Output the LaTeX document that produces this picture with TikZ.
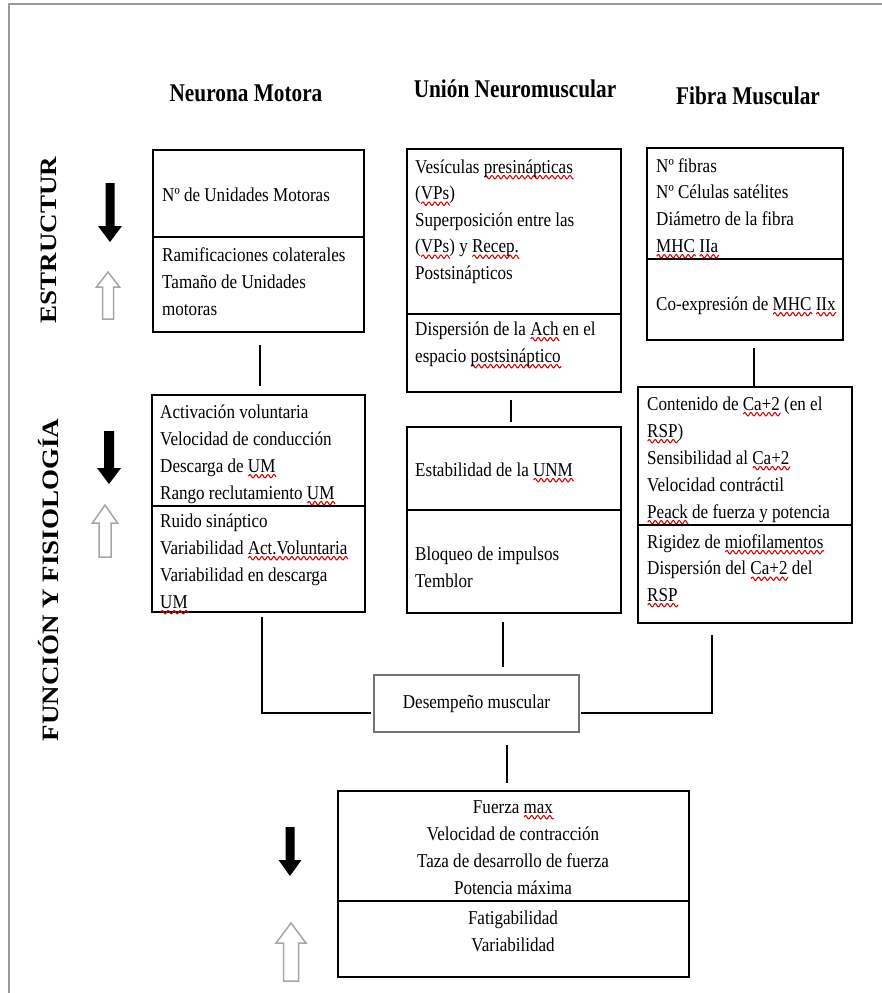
\documentclass[tikz,border=0pt]{standalone}
\usepackage{fontspec}
\usepackage{graphicx}
\setmainfont{Liberation Serif}[FakeStretch=0.87]
\newfontfamily\headfont{Liberation Serif}[FakeStretch=0.835]
\newfontfamily\sidefont{Liberation Serif}
% red wavy underline (spell-check style)
\newsavebox\sqbox
\newcommand\sq[1]{\sbox\sqbox{#1}%
  \pgfmathsetmacro\sqw{\wd\sqbox}\pgfmathtruncatemacro\sqn{1.6*\sqw+3}%
  \rlap{\raisebox{-4.2pt}[0pt][0pt]{\tikz[x=1pt,y=1pt,baseline=0pt]{\draw[red!85!black,line width=1.05pt]
     plot[domain=0:\sqw,samples=\sqn] (\x,{1.7*sin(\x*60)});}}}\usebox\sqbox}

% box from (x1,y1) to (x2,y2), in pixel-like units
\newcommand\mkbox[5]{\node[box, anchor=north west, minimum width={#4pt-#2pt}, minimum height={#5pt-#3pt}] (#1) at (#2,#3) {};}
% stacked text lines: name, style, x, first baseline, line step, list
\newcommand\tlines[6]{\foreach \t [count=\i] in {#6} {\node[#2] (#1-\i) at (#3,{#4+(\i-1)*#5}) {\t};}}
% filled downward arrow: cx, top, head base, tip, shaft half width, head half width
\newcommand\downarr[6]{\fill[downarrow] (#1-#5,#2) -- (#1+#5,#2) -- (#1+#5,#3) -- (#1+#6,#3) -- (#1,#4) -- (#1-#6,#3) -- (#1-#5,#3) -- cycle;}
% outlined upward arrow: cx, tip, head base, bottom, shaft half width, head half width
\newcommand\uparr[6]{\draw[uparrow] (#1,#2) -- (#1+#6,#3) -- (#1+#5,#3) -- (#1+#5,#4) -- (#1-#5,#4) -- (#1-#5,#3) -- (#1-#6,#3) -- cycle;}

\begin{document}
\begin{tikzpicture}[x=1pt,y=-1pt,
  box/.style={draw=black, line width=1.5pt, inner sep=0pt, outer sep=0pt},
  outbox/.style={draw=black!55, line width=1.4pt, inner sep=0pt, outer sep=0pt,
    font=\fontsize{19.6pt}{26.9pt}\selectfont},
  txt/.style={anchor=base west, inner sep=0pt, font=\fontsize{19.6pt}{26.9pt}\selectfont},
  ctxt/.style={anchor=base, inner sep=0pt, font=\fontsize{19.6pt}{26.9pt}\selectfont},
  head/.style={anchor=base, inner sep=0pt, font=\headfont\bfseries\fontsize{25.5pt}{30pt}\selectfont},
  side/.style={rotate=90, inner sep=0pt, font=\sidefont\bfseries\fontsize{27pt}{30pt}\selectfont},
  link/.style={draw=black, line width=1.5pt},
  frame/.style={draw=black!40, line width=2.5pt},
  downarrow/.style={fill=black},
  uparrow/.style={draw=black!35, fill=white, line width=1.5pt, line join=miter}]

\useasboundingbox (0,0) rectangle (881,993);
\draw[frame] (9,995) -- (9,4) -- (883,4);

% column headings
\node[head] (h1) at (246,101) {Neurona Motora};
\node[head] (h2) at (515,97) {Unión Neuromuscular};
\node[head] (h3) at (748,104) {Fibra Muscular};

% row headings
\node[side] (s1) at (49,240) {\scalebox{1}[0.87]{ESTRUCTUR}};
\node[side] (s2) at (49,580) {\scalebox{1}[0.87]{FUNCIÓN Y FISIOLOGÍA}};

% boxes
\mkbox{A1}{153}{150}{364}{237}
\mkbox{A2}{153}{237}{364}{332}
\mkbox{B1}{152}{395}{365}{506}
\mkbox{B2}{152}{506}{365}{612}
\mkbox{C1}{407}{149}{621}{314}
\mkbox{C2}{407}{314}{621}{392}
\mkbox{D1}{407}{427}{621}{510}
\mkbox{D2}{407}{510}{621}{613}
\mkbox{E1}{647}{148}{843}{259}
\mkbox{E2}{647}{259}{843}{340}
\mkbox{F1}{638}{387}{852}{525}
\mkbox{F2}{638}{525}{852}{623}
\mkbox{G1}{338}{791}{689}{901}
\mkbox{G2}{338}{901}{689}{977}
\node[outbox, anchor=north west, minimum width=205pt, minimum height=57pt] (P) at (374,675) {Desempeño muscular};

% box texts
\tlines{tA1}{txt}{162}{201}{27}{{Nº de Unidades Motoras}}
\tlines{tA2}{txt}{162}{261}{27}{{Ramificaciones colaterales},{Tamaño de Unidades},{motoras}}
\tlines{tB1}{txt}{160}{418}{27}{{Activación voluntaria},{Velocidad de conducción},{Descarga de \sq{UM}},{Rango reclutamiento \sq{UM}}}
\tlines{tB2}{txt}{160}{527}{27}{{Ruido sináptico},{Variabilidad \sq{Act.Voluntaria}},{Variabilidad en descarga},{\sq{UM}}}
\tlines{tC1}{txt}{415}{173}{26.5}{{Vesículas \sq{presinápticas}},{(\sq{VPs})},{Superposición entre las},{(\sq{VPs}) y \sq{Recep.}},{Postsinápticos}}
\tlines{tC2}{txt}{415}{335}{27}{{Dispersión de la \sq{Ach} en el},{espacio \sq{postsináptico}}}
\tlines{tD1}{txt}{415}{476}{27}{{Estabilidad de la \sq{UNM}}}
\tlines{tD2}{txt}{415}{560}{27}{{Bloqueo de impulsos},{Temblor}}
\tlines{tE1}{txt}{656}{172}{26.7}{{Nº fibras},{Nº Células satélites},{Diámetro de la fibra},{\sq{MHC} \sq{IIa}}}
\tlines{tE2}{txt}{656}{310}{27}{{Co-expresión de \sq{MHC} \sq{IIx}}}
\tlines{tF1}{txt}{647}{410}{27}{{Contenido de \sq{Ca+2} (en el},{\sq{RSP})},{Sensibilidad al \sq{Ca+2}},{Velocidad contráctil},{\sq{Peack} de fuerza y potencia}}
\tlines{tF2}{txt}{647}{548}{26.5}{{Rigidez de \sq{miofilamentos}},{Dispersión del \sq{Ca+2} del},{\sq{RSP}}}
\tlines{tG1}{ctxt}{513}{813}{27.3}{{Fuerza \sq{max}},{Velocidad de contracción},{Taza de desarrollo de fuerza},{Potencia máxima}}
\tlines{tG2}{ctxt}{513}{924}{27}{{Fatigabilidad},{Variabilidad}}

% connectors
\draw[link] ([xshift=1.5pt,yshift=-13pt]A2.south) -- ([xshift=1.5pt,yshift=9pt]B1.north);
\draw[link] ([xshift=-3pt,yshift=-8pt]C2.south) -- ([xshift=-3pt,yshift=5pt]D1.north);
\coordinate (ef) at ([xshift=9pt,yshift=-8pt]E2.south);
\draw[link] (ef) -- (ef |- F1.north);

\coordinate (bp) at ([xshift=3.5pt,yshift=-5pt]B2.south);
\coordinate (pw) at ([yshift=-9.5pt]P.west);
\draw[link] (bp) |- ([xshift=-3pt]pw);

\coordinate (dp) at ([xshift=-11pt,yshift=-9pt]D2.south);
\coordinate (dp2) at (dp |- P.north);
\draw[link] (dp) -- ([yshift=8pt]dp2);

\coordinate (fp) at ([xshift=-33pt,yshift=-12pt]F2.south);
\coordinate (pe) at ([yshift=-9.5pt]P.east);
\draw[link] (fp) |- ([xshift=2pt]pe);

\coordinate (pg) at ([xshift=-6.5pt,yshift=8pt]G1.north);
\coordinate (pg2) at (pg |- P.south);
\draw[link] (pg) -- ([yshift=-13pt]pg2);

% decrease / increase arrows
\downarr{110}{183}{226}{242}{4.5}{12}
\uparr{108}{272}{287}{319}{5.5}{11.5}
\downarr{109}{431}{468}{484}{5}{12}
\uparr{105}{505}{523}{557}{6}{12.5}
\downarr{290}{827}{860}{876}{4.5}{11.5}
\uparr{291}{923}{943}{981}{7.5}{15}
\end{tikzpicture}
\end{document}
